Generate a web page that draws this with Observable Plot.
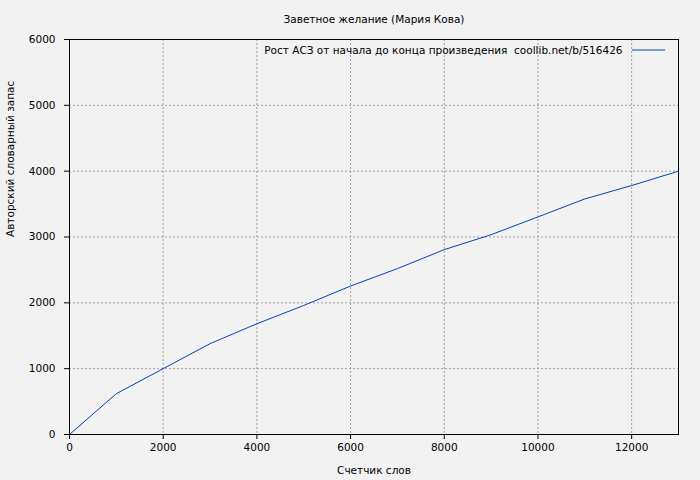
<!DOCTYPE html>
<html>
<head>
<meta charset="utf-8">
<script src="https://cdn.jsdelivr.net/npm/d3@7"></script>
<script src="https://cdn.jsdelivr.net/npm/@observablehq/plot@0.6"></script>
<style>
  html, body { margin: 0; padding: 0; background: #f2f2f2; }
</style>
</head>
<body>
<div id="chart"></div>
<script>
const words = [0, 1000, 2000, 3000, 4000, 5000, 6000, 7000, 8000, 9000, 10000, 11000, 12000, 13000];
const vocab = [0, 620, 1000, 1380, 1682, 1960, 2255, 2520, 2808, 3035, 3305, 3578, 3782, 4000];
const xTicks = [0, 2000, 4000, 6000, 8000, 10000, 12000];
const yTicks = [0, 1000, 2000, 3000, 4000, 5000, 6000];
const title = "Заветное желание (Мария Кова)";
const xLabel = "Счетчик слов";
const yLabel = "Авторский словарный запас";
const legendLabel = "Рост АСЗ от начала до конца произведения  coollib.net/b/516426";

const data = words.map((w, i) => ({w, v: vocab[i]}));
const lineColor = "#0044b0";
const font = "DejaVu Sans, Verdana, sans-serif";
const fs = 10.5;

const legendLine = (index, scales, values, dim) => {
  const xr = dim.width - dim.marginRight;
  const y = dim.marginTop + 11;
  const l = document.createElementNS("http://www.w3.org/2000/svg", "line");
  l.setAttribute("x1", xr - 46);
  l.setAttribute("x2", xr - 13);
  l.setAttribute("y1", y);
  l.setAttribute("y2", y);
  l.setAttribute("stroke", lineColor);
  l.setAttribute("stroke-width", 1);
  return l;
};

const chart = Plot.plot({
  width: 700,
  height: 480,
  marginLeft: 69,
  marginRight: 22,
  marginTop: 39,
  marginBottom: 46,
  style: {background: "#f2f2f2", fontFamily: font, fontSize: fs + "px", color: "#000"},
  x: {domain: [0, 13000]},
  y: {domain: [0, 6000]},
  marks: [
    Plot.gridX(xTicks.filter(d => d > 0), {stroke: "#a0a0a0", strokeOpacity: 1, strokeDasharray: "2,2"}),
    Plot.gridY(yTicks.filter(d => d > 0 && d < 6000), {stroke: "#a0a0a0", strokeOpacity: 1, strokeDasharray: "2,2"}),
    Plot.axisX(xTicks, {tickSize: 5, tickPadding: 4, label: null, fontSize: fs, stroke: "black", tickFormat: d => String(d)}),
    Plot.axisY(yTicks, {tickSize: 5, tickPadding: 9, label: null, fontSize: fs, stroke: "black", tickFormat: d => String(d)}),
    Plot.line(data, {x: "w", y: "v", stroke: lineColor, strokeWidth: 1}),
    Plot.frame({stroke: "black", strokeWidth: 1}),
    Plot.text([title], {frameAnchor: "top", dy: -20, lineAnchor: "middle", fontSize: fs, fill: "black"}),
    Plot.text([xLabel], {frameAnchor: "bottom", dy: 36, lineAnchor: "middle", fontSize: fs, fill: "black"}),
    Plot.text([yLabel], {frameAnchor: "left", dx: -59, rotate: -90, lineAnchor: "middle", fontSize: fs, fill: "black"}),
    Plot.text([legendLabel], {frameAnchor: "top-right", dx: -56, dy: 11, textAnchor: "end", lineAnchor: "middle", fontSize: fs, fill: "black"}),
    legendLine
  ]
});
document.getElementById("chart").appendChild(chart);
</script>
</body>
</html>
